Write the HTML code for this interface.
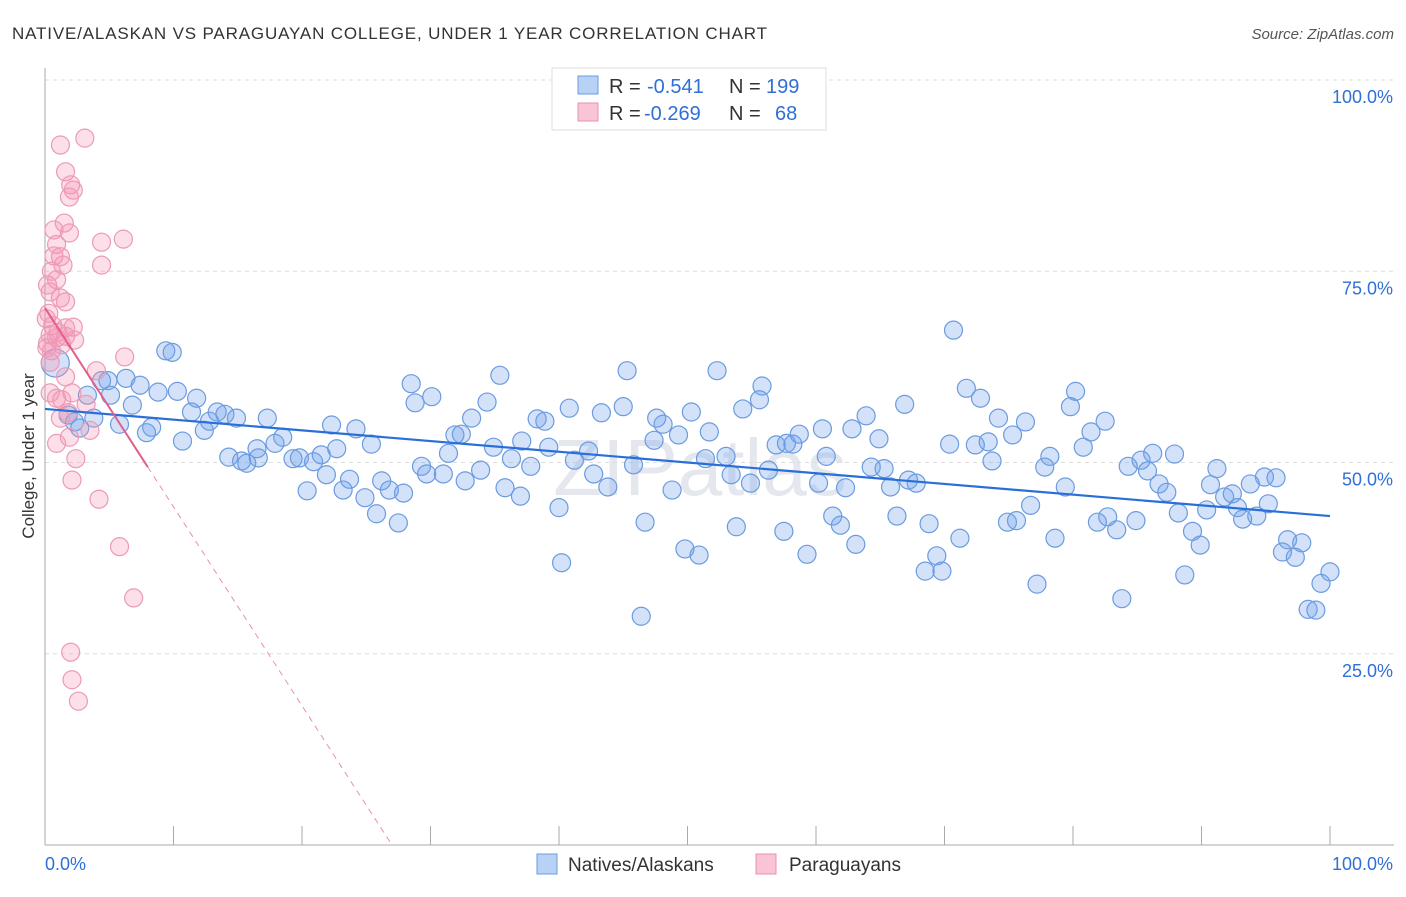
<!DOCTYPE html>
<html><head><meta charset="utf-8">
<style>
body{margin:0;background:#fff;font-family:"Liberation Sans",sans-serif;}
svg text{font-family:"Liberation Sans",sans-serif;}
</style></head>
<body>
<svg id="chart" width="1406" height="892" viewBox="0 0 1406 892" xmlns="http://www.w3.org/2000/svg">
<text x="12" y="39" font-size="17" fill="#333" textLength="755" lengthAdjust="spacing">NATIVE/ALASKAN VS PARAGUAYAN COLLEGE, UNDER 1 YEAR CORRELATION CHART</text>
<text x="1394" y="39" font-size="15" fill="#555" text-anchor="end" font-style="italic">Source: ZipAtlas.com</text>
<text transform="translate(34,456) rotate(-90)" font-size="17" fill="#333" text-anchor="middle">College, Under 1 year</text>
<text x="700" y="495" font-size="80" fill="#e4e8ee" text-anchor="middle" font-family="Liberation Serif">ZIPatlas</text>
<g id="grid"></g>
<g id="axes"></g>
<g id="points"></g>
<g id="trends"></g>
<g>
<rect x="552" y="68" width="274" height="62" fill="#fff" stroke="#ddd"/>
<rect x="578" y="76" width="20" height="18" fill="#b8d2f5" stroke="#6b9be0"/>
<text x="609" y="93" font-size="20" fill="#333">R = </text><text x="647" y="93" font-size="20" fill="#2f6fd6">-0.541</text>
<text x="729" y="93" font-size="20" fill="#333">N = </text><text x="766" y="93" font-size="20" fill="#2f6fd6">199</text>
<rect x="578" y="103" width="20" height="18" fill="#f9c5d4" stroke="#e890b0"/>
<text x="609" y="120" font-size="20" fill="#333">R = </text><text x="644" y="120" font-size="20" fill="#2f6fd6">-0.269</text>
<text x="729" y="120" font-size="20" fill="#333">N = </text><text x="775" y="120" font-size="20" fill="#2f6fd6">68</text>
</g>
<g>
<rect x="537" y="854" width="20" height="20" fill="#b8d2f5" stroke="#6b9be0"/>
<text x="568" y="871" font-size="19" fill="#333">Natives/Alaskans</text>
<rect x="756" y="854" width="20" height="20" fill="#f9c5d4" stroke="#e890b0"/>
<text x="789" y="871" font-size="19" fill="#333">Paraguayans</text>
</g>
</svg>
<script>
const yTicks=[25,50,75,100];
const yTickLabels=["25.0%","50.0%","75.0%","100.0%"];
const xTicks=[0,10,20,30,40,50,60,70,80,90,100];
const blueX=[0.8,4.4,4.9,6.3,7.4,3.3,5.1,6.8,1.8,2.3,2.7,3.8,5.8,7.9,8.3,8.8,9.4,9.9,10.3,10.7,11.4,11.8,12.4,12.8,13.4,14,14.9,14.3,15.3,15.7,16.5,16.6,17.3,17.9,18.5,19.3,19.8,20.4,20.9,21.5,21.9,22.3,22.7,23.2,23.7,24.2,24.9,25.4,25.8,26.2,26.8,27.5,27.9,28.5,28.8,29.3,29.7,30.1,31,31.4,31.9,32.4,32.7,33.2,33.9,34.4,34.9,35.4,35.8,36.3,37,37.1,37.8,38.3,38.9,39.2,40,40.2,40.8,41.2,42.3,42.7,43.3,43.8,45,45.3,45.8,46.4,46.7,47.4,47.6,48.1,48.8,49.3,49.8,50.3,50.9,51.4,51.7,52.3,53,53.4,53.8,54.3,54.9,55.6,55.8,56.3,56.9,57.5,57.7,58.2,58.7,59.3,60.2,60.5,60.8,61.3,61.9,62.3,62.8,63.1,63.9,64.3,64.9,65.3,65.8,66.3,66.9,67.2,67.8,68.5,68.8,69.4,69.8,70.7,70.4,71.2,71.7,72.4,72.8,73.4,73.7,74.2,74.9,75.3,75.6,76.3,76.7,77.2,77.8,78.2,78.6,79.4,79.8,80.2,80.8,81.4,81.9,82.5,82.7,83.4,83.8,84.3,84.9,85.3,85.8,86.2,86.7,87.3,87.9,88.2,88.7,89.3,89.9,90.4,90.7,91.2,91.8,92.4,92.8,93.2,93.8,94.3,94.9,95.2,95.8,96.3,96.7,97.3,97.8,98.3,98.9,99.3,100];
const blueY=[63,60.7,60.7,61,60.1,58.8,58.8,57.5,56.2,55.3,54.5,55.8,55,53.9,54.6,59.2,64.6,64.4,59.3,52.8,56.6,58.4,54.2,55.4,56.6,56.3,55.8,50.7,50.2,49.9,51.8,50.6,55.8,52.5,53.3,50.5,50.6,46.3,50.1,51,48.4,54.9,51.8,46.4,47.8,54.4,45.4,52.4,43.3,47.6,46.4,42.1,46,60.3,57.8,49.5,48.5,58.6,48.5,51.2,53.6,53.7,47.6,55.8,49,57.9,52,61.4,46.7,50.5,45.6,52.8,49.5,55.7,55.4,52,44.1,36.9,57.1,50.3,51.5,48.5,56.5,46.8,57.3,62,49.7,29.9,42.2,52.9,55.8,55,46.4,53.6,38.7,56.6,37.9,50.5,54,62,50.8,48.4,41.6,57,47.3,58.2,60,49,52.3,41,52.5,52.4,53.7,38,47.3,54.4,50.8,43,41.8,46.7,54.4,39.3,56.1,49.4,53.1,49.2,46.8,43,57.6,47.7,47.3,35.8,42,37.8,35.8,67.3,52.4,40.1,59.7,52.3,58.4,52.7,50.2,55.8,42.2,53.6,42.4,55.3,44.4,34.1,49.4,50.8,40.1,46.8,57.3,59.3,52,54,42.2,55.4,42.9,41.2,32.2,49.5,42.4,50.3,48.9,51.2,47.2,46.1,51.1,43.4,35.3,41,39.2,43.8,47.1,49.2,45.5,45.9,44.1,42.6,47.2,43,48.1,44.6,48,38.3,39.9,37.6,39.5,30.8,30.7,34.2,35.7];
const pinkX=[1.2,3.1,1.6,2,2.2,1.9,1.5,0.7,1.9,0.9,4.4,6.1,4.4,0.7,1.2,1.4,0.5,0.9,0.2,0.4,1.2,1.6,0.3,2.2,1.6,0.4,0.9,1.6,2.3,0.2,1.3,6.2,4,1.6,0.4,0.9,1.3,2.1,3.2,1.2,3.5,1.9,0.9,2.4,2.1,4.2,5.8,6.9,2,2.1,2.6,0.1,0.6,0.15,0.5,1,0.4,1.8];
const pinkY=[91.5,92.4,88,86.3,85.6,84.7,81.3,80.4,80,78.5,78.8,79.2,75.8,77,76.9,75.8,75,73.9,73.2,72.3,71.5,71,69.5,67.7,67.6,66.7,66.3,66.5,66,65.6,65.4,63.8,62,61.2,59.1,58.4,58.2,59.1,57.6,55.8,54.2,53.3,52.5,50.5,47.7,45.2,39,32.3,25.2,21.6,18.8,68.8,67.9,65,64.6,67,63.1,56.5];
const blueTrend=[57.0,43.0];   // value at x=0, x=100
const pinkTrend=[70.2,-2.6];  // intercept, slope per %
const NS="http://www.w3.org/2000/svg";
const X=v=>45+v*12.85;
const Y=v=>845-v*7.65;
function mk(tag,attrs,parent){const e=document.createElementNS(NS,tag);for(const k in attrs)e.setAttribute(k,attrs[k]);parent.appendChild(e);return e;}
const grid=document.getElementById('grid'),axes=document.getElementById('axes'),pts=document.getElementById('points'),tr=document.getElementById('trends');
yTicks.forEach((t,i)=>{
 const l=mk('line',{x1:45,x2:1394,y1:Y(t),y2:Y(t),stroke:'#ddd','stroke-dasharray':'4 4'},grid);
 
 
 const tx=mk('text',{x:1393,y:Y(t)+23,'font-size':18,fill:'#2f6fd6','text-anchor':'end'},axes);
 tx.textContent=yTickLabels[i];
 
 
});
const ya=mk('line',{x1:45,x2:45,y1:68,y2:845,stroke:'#aaa'},axes);


const xa=mk('line',{x1:45,x2:1394,y1:845,y2:845,stroke:'#aaa'},axes);


xTicks.forEach(t=>{
 const l=mk('line',{x1:X(t),x2:X(t),y1:826,y2:845,stroke:'#aaa'},axes);
 
 
});
[["0.0%",45,'start'],["100.0%",1393,'end']].forEach(a=>{
 const tx=mk('text',{x:a[1],y:870,'font-size':18,fill:'#2f6fd6','text-anchor':a[2]},axes);
 tx.textContent=a[0];
 
 
});
blueX.forEach((v,i)=>{
 const c=mk('circle',{cx:X(v),cy:Y(blueY[i]),r:i===0?14:9,fill:'rgba(110,160,235,0.3)',stroke:'#6b9be0','stroke-width':1.2},pts);
 
 
});
pinkX.forEach((v,i)=>{
 const c=mk('circle',{cx:X(v),cy:Y(pinkY[i]),r:9,fill:'rgba(245,150,180,0.3)',stroke:'#ec9ab6','stroke-width':1.2},pts);
 
 
});
const bl=mk('line',{x1:X(0),y1:Y(blueTrend[0]),x2:X(100),y2:Y(blueTrend[1]),stroke:'#2a6fd8','stroke-width':2.2},tr);


const pEnd=8, pZero=-pinkTrend[0]/pinkTrend[1];
const ps=mk('line',{x1:X(0),y1:Y(pinkTrend[0]),x2:X(pEnd),y2:Y(pinkTrend[0]+pinkTrend[1]*pEnd),stroke:'#e0608a','stroke-width':2},tr);


const pd=mk('line',{x1:X(pEnd),y1:Y(pinkTrend[0]+pinkTrend[1]*pEnd),x2:X(pZero),y2:Y(0),stroke:'#e890b0','stroke-width':1,'stroke-dasharray':'6 5'},tr);


</script>
</body></html>
